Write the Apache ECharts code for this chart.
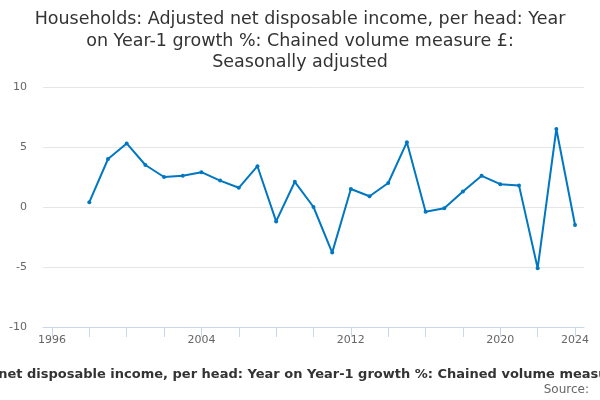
<!DOCTYPE html>
<html>
<head>
<meta charset="utf-8">
<script src="https://cdn.jsdelivr.net/npm/echarts@6/dist/echarts.min.js"></script>
<style>
  html, body { margin: 0; padding: 0; background: #fff; }
  #chart { width: 600px; height: 400px; }
</style>
</head>
<body>
<div id="chart"></div>
<script>
// values
const years = [1998, 1999, 2000, 2001, 2002, 2003, 2004, 2005, 2006, 2007, 2008, 2009, 2010, 2011,
               2012, 2013, 2014, 2015, 2016, 2017, 2018, 2019, 2020, 2021, 2022, 2023, 2024];
const growth = [0.4, 4.0, 5.3, 3.5, 2.5, 2.6, 2.9, 2.2, 1.6, 3.4, -1.2, 2.1, 0.0, -3.8,
                1.5, 0.9, 2.0, 5.4, -0.4, -0.1, 1.3, 2.6, 1.9, 1.8, -5.1, 6.5, -1.5];
const xTicks = [1996, 1998, 2000, 2002, 2004, 2006, 2008, 2010, 2012, 2014, 2016, 2018, 2020, 2022, 2024];
const xLabels = [1996, 2004, 2012, 2020, 2024];

const seriesName = 'Households: Adjusted net disposable income, per head: Year on Year-1 growth %: Chained volume measure £: Seasonally adjusted';
const font = 'DejaVu Sans';

const chart = echarts.init(document.getElementById('chart'));

chart.setOption({
    animation: false,
    textStyle: { fontFamily: font },
    title: {
        text: 'Households: Adjusted net disposable income, per head: Year\non Year-1 growth %: Chained volume measure £:\nSeasonally adjusted',
        left: 'center',
        top: 4,
        textStyle: {
            color: '#333333',
            fontFamily: font,
            fontSize: 17.5,
            fontWeight: 'normal',
            lineHeight: 21.5
        }
    },
    grid: { left: 43, right: 16, top: 87, bottom: 73, outerBoundsMode: 'none', containLabel: false },
    xAxis: {
        type: 'value',
        min: 1995.52,
        max: 2024.48,
        name: seriesName,
        nameLocation: 'middle',
        nameGap: 41,
        nameTextStyle: { color: '#333333', fontFamily: font, fontSize: 13, fontWeight: 'bold' },
        axisLine: { show: true, onZero: false, lineStyle: { color: '#ccd6eb' } },
        axisTick: { show: true, length: 10, customValues: xTicks, lineStyle: { color: '#ccd6eb' } },
        axisLabel: { customValues: xLabels, color: '#666666', fontFamily: font, fontSize: 11, margin: 8,
                     showMaxLabel: true, showMinLabel: true, hideOverlap: false,
                     formatter: v => String(v) },
        splitLine: { show: false }
    },
    yAxis: {
        type: 'value',
        min: -10,
        max: 10,
        interval: 5,
        axisLine: { show: false },
        axisTick: { show: false },
        axisLabel: { color: '#666666', fontFamily: font, fontSize: 11, margin: 16 },
        splitLine: { lineStyle: { color: '#e6e6e6' } }
    },
    series: [{
        name: seriesName,
        type: 'line',
        data: years.map((y, i) => [y, growth[i]]),
        symbol: 'circle',
        symbolSize: 4,
        lineStyle: { color: '#0077c2', width: 2 },
        itemStyle: { color: '#0077c2' }
    }],
    graphic: [{
        type: 'text',
        right: 11,
        top: 384,
        style: { text: 'Source:', fill: '#666666', fontSize: 12, fontFamily: font }
    }]
});
</script>
</body>
</html>
